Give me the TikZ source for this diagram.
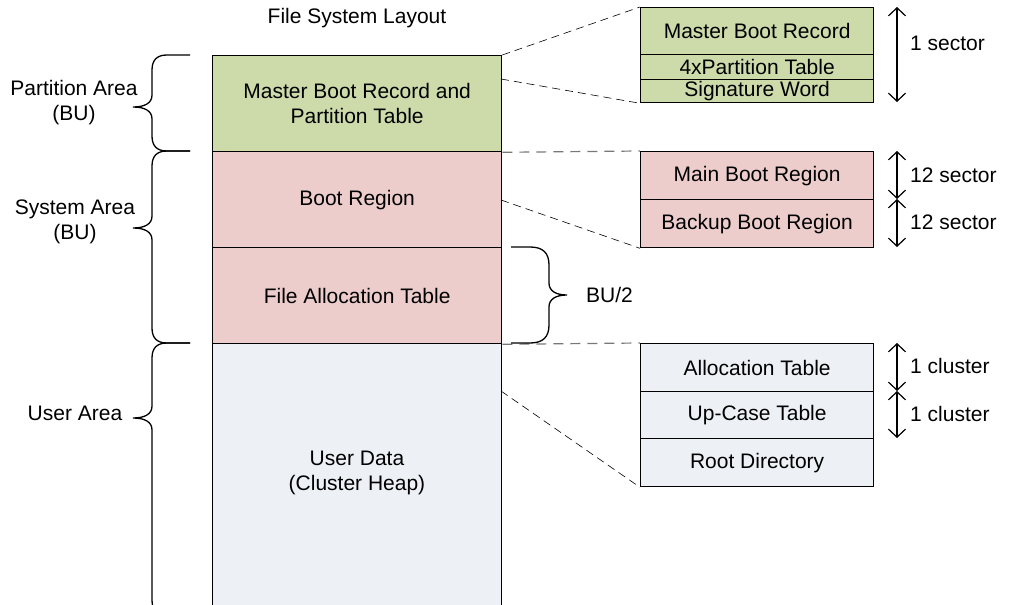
\documentclass[tikz,border=0pt]{standalone}
\usepackage{fontspec}
\setmainfont{Liberation Sans}
\usetikzlibrary{arrows.meta,calc}
\definecolor{mbrgreen}{RGB}{205,219,171}
\definecolor{bootpink}{RGB}{236,205,204}
\definecolor{userblue}{RGB}{237,240,245}
\definecolor{guidegray}{RGB}{120,120,120}
\begin{document}
\begin{tikzpicture}[x=1pt,y=-1pt,
  every node/.style={font=\fontsize{21}{25}\selectfont, align=center},
  mainblk/.style={draw, line width=1.3pt, anchor=north west, inner sep=0pt,
    minimum width=289pt},
  partblk/.style={draw, line width=1.3pt, anchor=north west, inner sep=0pt,
    minimum width=233pt},
  zoomline/.style={dashed, dash pattern=on 8pt off 5pt, line width=0.6pt},
  edgeline/.style={dash pattern=on 10pt off 7pt, line width=1.2pt, draw=guidegray},
  bracepath/.style={line width=1.3pt},
  sizearrow/.style={line width=1.2pt, {Straight Barb[length=8pt,width=17pt]}-{Straight Barb[length=8pt,width=17pt]}},
  sidelabel/.style={anchor=west, inner sep=0pt}]
\useasboundingbox (0,0) rectangle (1018,605);
\clip (0,0) rectangle (1018,605);

% title
\node (title) at (357,18) {File System Layout};

% main layout column
\node[mainblk, fill=mbrgreen, minimum height=96pt] (mbr) at (212,55) {Master Boot Record and\\Partition Table};
\node[mainblk, fill=bootpink, minimum height=96pt] (boot) at (212,151) {Boot Region};
\node[mainblk, fill=bootpink, minimum height=96pt] (fat) at (212,247) {File Allocation Table};
\node[mainblk, fill=userblue, minimum height=280pt] (user) at (212,343) {};
\node (usertext) at (357,473) {User Data\\(Cluster Heap)};

% detail: master boot record sector
\node[partblk, fill=mbrgreen, minimum height=47pt] (mbrrec) at (640,7) {Master Boot Record};
\node[partblk, fill=mbrgreen, minimum height=25pt] (ptable) at (640,54) {4xPartition Table};
\node[partblk, fill=mbrgreen, minimum height=23pt] (sig) at (640,79) {Signature Word};

% detail: boot regions
\node[partblk, fill=bootpink, minimum height=48pt] (mainboot) at (640,151) {Main Boot Region};
\node[partblk, fill=bootpink, minimum height=48pt] (backboot) at (640,199) {Backup Boot Region};

% detail: cluster heap start
\node[partblk, fill=userblue, minimum height=48pt] (alloc) at (640,343) {Allocation Table};
\node[partblk, fill=userblue, minimum height=47pt] (upcase) at (640,391) {Up-Case Table};
\node[partblk, fill=userblue, minimum height=48pt] (rootdir) at (640,438) {Root Directory};

% zoom guides
\coordinate (mbrtap) at (501,79);
\coordinate (boottap) at (501,200);
\coordinate (usertap) at (501,391);
\draw[zoomline] (mbr.north east) -- (mbrrec.north west);
\draw[zoomline] (mbrtap) -- (sig.south west);
\draw[edgeline] (mbr.south east) -- (mainboot.north west);
\draw[zoomline] (boottap) -- (backboot.south west);
\draw[edgeline] (fat.south east) -- (alloc.north west);
\draw[zoomline] (usertap) -- (rootdir.south west);

% left braces
\draw[bracepath] (190,55) -- (167,55) .. controls (157,55) and (152,60) .. (152,70)
  -- (152,95) .. controls (152,103) and (145,107) .. (133,107)
  .. controls (145,107) and (152,111) .. (152,119)
  -- (152,136) .. controls (152,146) and (157,151) .. (167,151) -- (190,151);
\draw[bracepath] (190,151) -- (167,151) .. controls (157,151) and (152,156) .. (152,166)
  -- (152,216) .. controls (152,224) and (145,228) .. (133,228)
  .. controls (145,228) and (152,232) .. (152,240)
  -- (152,328) .. controls (152,338) and (157,343) .. (167,343) -- (190,343);
\draw[bracepath] (190,343) -- (167,343) .. controls (157,343) and (152,348) .. (152,358)
  -- (152,406) .. controls (152,414) and (145,418) .. (133,418)
  .. controls (145,418) and (152,422) .. (152,430)
  -- (152,600) .. controls (152,610) and (157,615) .. (167,615) -- (190,615);

\node (partlbl) at (74,103) {Partition Area\\(BU)};
\node (syslbl) at (75,222) {System Area\\(BU)};
\node (userlbl) at (75,413) {User Area};

% FAT size brace
\draw[bracepath] (511,247) -- (530,247) .. controls (543,247) and (549,253) .. (549,265)
  -- (549,283) .. controls (549,291) and (556,295) .. (567,295)
  .. controls (556,295) and (549,299) .. (549,307)
  -- (549,325) .. controls (549,337) and (543,343) .. (530,343) -- (511,343);
\node[sidelabel] (bulbl) at (586,295) {BU/2};

% size arrows
\coordinate (s1a) at (897,7);
\coordinate (s1b) at (897,102);
\coordinate (s2a) at (897,151);
\coordinate (s2b) at (897,199);
\coordinate (s2c) at (897,247);
\coordinate (s3a) at (897,343);
\coordinate (s3b) at (897,391);
\coordinate (s3c) at (897,438);
\draw[sizearrow] (s1a) -- (s1b);
\draw[sizearrow] (s2a) -- (s2b);
\draw[sizearrow] (s2b) -- (s2c);
\draw[sizearrow] (s3a) -- (s3b);
\draw[sizearrow] (s3b) -- (s3c);

\node[sidelabel] (sec1) at (910,43) {1 sector};
\node[sidelabel] (sec12a) at (910,175) {12 sector};
\node[sidelabel] (sec12b) at (910,222) {12 sector};
\node[sidelabel] (clu1a) at (910,366) {1 cluster};
\node[sidelabel] (clu1b) at (910,414) {1 cluster};
\end{tikzpicture}
\end{document}
